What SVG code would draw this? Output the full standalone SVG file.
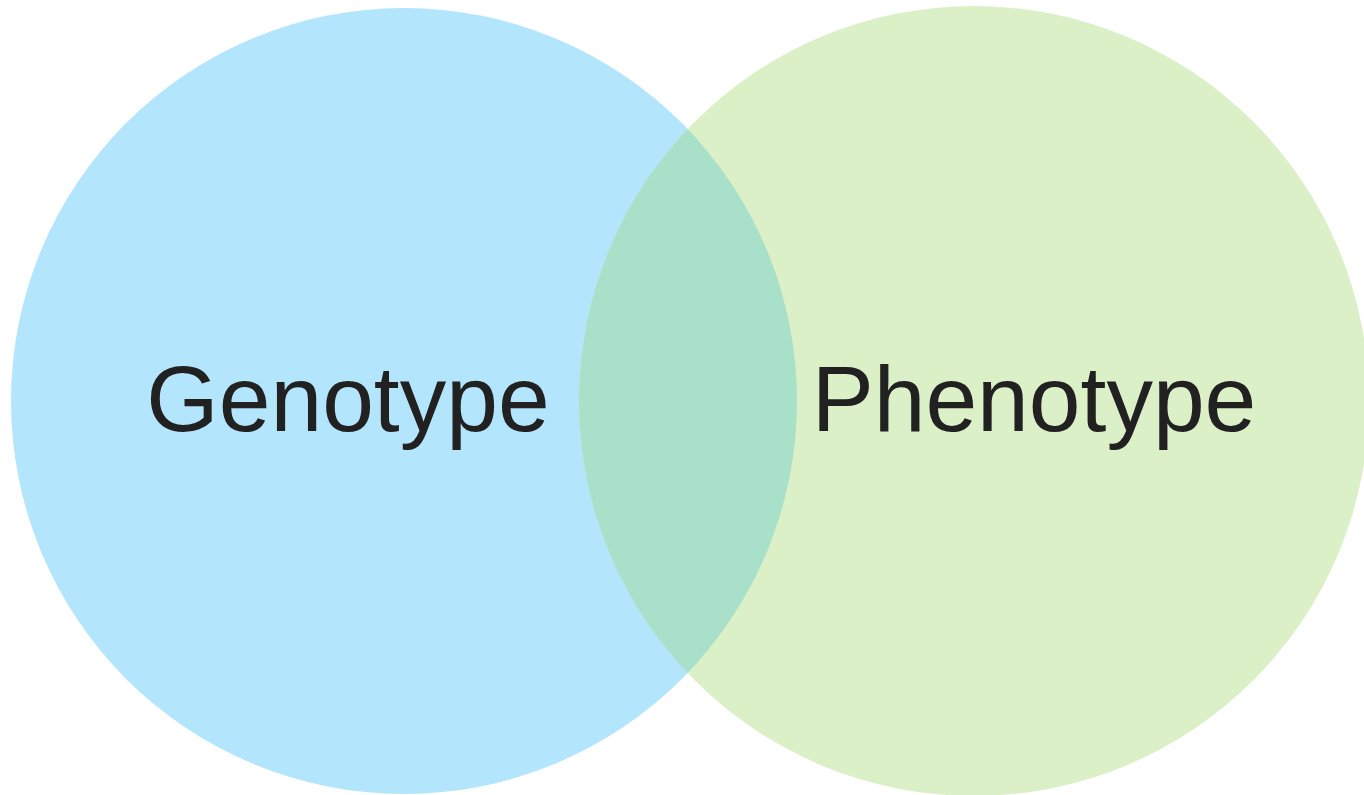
<svg xmlns="http://www.w3.org/2000/svg" width="1364" height="795" viewBox="0 0 1364 795">
  <style>
    .label { font-family: "Liberation Sans", Arial, sans-serif; font-size: 93px; fill: #212121; text-anchor: middle; }
  </style>
  <defs>
    <clipPath id="clip-geno">
      <circle cx="404" cy="401" r="393"/>
    </clipPath>
  </defs>
  <rect width="1364" height="795" fill="#ffffff"/>
  <g id="genotype">
    <circle cx="404" cy="401" r="393" fill="#b3e5fc"/>
  </g>
  <g id="phenotype">
    <circle cx="974" cy="401" r="395" fill="#dcf0c8"/>
  </g>
  <g id="overlap">
    <circle cx="974" cy="401" r="395" fill="#a8e0c9" clip-path="url(#clip-geno)"/>
  </g>
  <g id="labels">
    <text class="label" x="348" y="431">Genotype</text>
    <text class="label" x="1034" y="431">Phenotype</text>
  </g>
</svg>
